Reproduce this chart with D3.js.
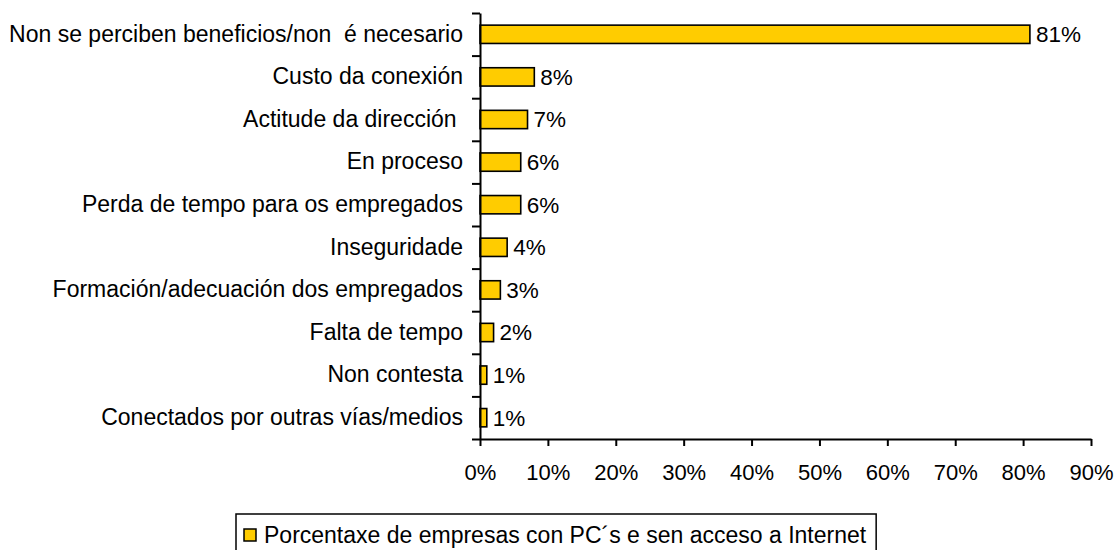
<!DOCTYPE html>
<html>
<head>
<meta charset="utf-8">
<script src="https://cdn.jsdelivr.net/npm/d3@7"></script>
<style>
  body { margin: 0; background: #fff; }
  svg text { font-family: "Liberation Sans", Arial, sans-serif; fill: #000; }
</style>
</head>
<body>
<div class="chart"></div>
<script>
// Data
var categories = [
  "Non se perciben beneficios/non  é necesario",
  "Custo da conexión",
  "Actitude da dirección ",
  "En proceso",
  "Perda de tempo para os empregados",
  "Inseguridade",
  "Formación/adecuación dos empregados",
  "Falta de tempo",
  "Non contesta",
  "Conectados por outras vías/medios"
];
var values = [0.81, 0.08, 0.07, 0.06, 0.06, 0.04, 0.03, 0.02, 0.01, 0.01];
var valueLabels = ["81%", "8%", "7%", "6%", "6%", "4%", "3%", "2%", "1%", "1%"];
var xTicks = [0, 0.1, 0.2, 0.3, 0.4, 0.5, 0.6, 0.7, 0.8, 0.9];
var seriesName = "Porcentaxe de empresas con PC´s e sen acceso a Internet";

// Chart setup
var svgWidth = 1115;
var svgHeight = 550;
var plotLeft = 480, plotRight = 1091, plotTop = 13, plotBottom = 439;
var labelSize = 23;
var valueSize = 22.5;

var svg = d3.select(".chart")
  .append("svg")
  .attr("width", svgWidth)
  .attr("height", svgHeight);

var xScale = d3.scaleLinear()
  .domain([0, 0.9])
  .range([plotLeft, plotRight]);

var yScale = d3.scaleBand()
  .domain(categories)
  .range([plotTop, plotBottom])
  .paddingInner(0.57)
  .paddingOuter(0.285);

// y boundaries for tick marks between categories
var yEdge = d3.scaleLinear()
  .domain([0, categories.length])
  .range([plotTop, plotBottom]);

// Bars
svg.selectAll(".bar")
  .data(values)
  .enter()
  .append("rect")
  .attr("class", "bar")
  .attr("x", xScale(0))
  .attr("y", (d, i) => yScale(categories[i]))
  .attr("width", d => xScale(d) - xScale(0))
  .attr("height", yScale.bandwidth())
  .attr("fill", "#FFCC00")
  .attr("stroke", "#000")
  .attr("stroke-width", 1.6);

// Value labels
svg.selectAll(".val")
  .data(values)
  .enter()
  .append("text")
  .attr("class", "val")
  .attr("x", d => xScale(d) + 6)
  .attr("y", (d, i) => yScale(categories[i]) + yScale.bandwidth() / 2)
  .attr("dy", "0.35em")
  .attr("font-size", valueSize)
  .text((d, i) => valueLabels[i]);

// x axis
var xAxis = svg.append("g")
  .attr("transform", `translate(0, ${plotBottom})`)
  .call(d3.axisBottom(xScale)
    .tickValues(xTicks)
    .tickFormat(d3.format(".0%"))
    .tickSize(7)
    .tickSizeOuter(0)
    .tickPadding(18));
xAxis.selectAll("text").attr("font-size", 22).attr("font-family", null);
xAxis.selectAll("path, line").attr("stroke", "#000").attr("stroke-width", 2);

// y axis (ticks on boundaries)
var yAxis = svg.append("g")
  .attr("transform", `translate(${plotLeft}, 0)`)
  .call(d3.axisLeft(yEdge)
    .tickValues(d3.range(categories.length + 1))
    .tickFormat("")
    .tickSize(8)
    .tickSizeOuter(0));
yAxis.selectAll("path, line").attr("stroke", "#000").attr("stroke-width", 2);

// category labels
var yLabels = svg.append("g")
  .attr("transform", `translate(${plotLeft}, 0)`)
  .call(d3.axisLeft(yScale).tickSize(0).tickPadding(17));
yLabels.select(".domain").remove();
yLabels.selectAll("text")
  .attr("font-size", labelSize)
  .attr("font-family", null)
  .style("white-space", "pre");

// Legend
var legend = svg.append("g");
var legendBox = legend.append("rect")
  .attr("x", 236)
  .attr("y", 514)
  .attr("height", 50)
  .attr("fill", "none")
  .attr("stroke", "#000")
  .attr("stroke-width", 1.5);
legend.append("rect")
  .attr("x", 244)
  .attr("y", 529)
  .attr("width", 12)
  .attr("height", 12)
  .attr("fill", "#FFCC00")
  .attr("stroke", "#000")
  .attr("stroke-width", 1.5);
var legendText = legend.append("text")
  .attr("x", 264)
  .attr("y", 535)
  .attr("dy", "0.35em")
  .attr("font-size", 23)
  .text(seriesName);
var textEnd = 264 + legendText.node().getComputedTextLength();
legendBox.attr("width", textEnd + 10 - 236);
</script>
</body>
</html>
